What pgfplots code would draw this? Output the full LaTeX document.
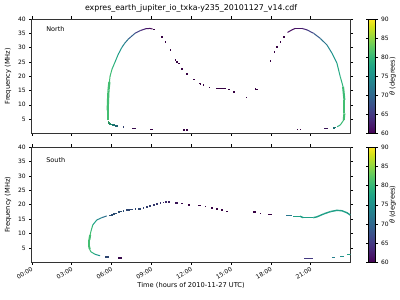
\documentclass[border=0pt]{standalone}
\usepackage{pgfplots}
\pgfplotsset{compat=1.18}
\usepackage{fontspec}
\setmainfont{DejaVu Sans}
\newcommand{\tf}{\fontsize{6}{7}\selectfont}
\newcommand{\lf}{\fontsize{6.7}{8}\selectfont}
\pgfplotsset{
  base/.style={
    scale only axis, width=318.8bp, height=114.3bp,
    xmin=0, xmax=24, ymin=0, ymax=40,
    xtick={0,3,...,21}, ytick={5,10,...,40},
    tick align=outside, major tick length=2.5bp,
    tick style={black, line width=0.4pt},
    axis line style={line width=0.5pt, black!80},
    tick label style={font=\tf},
    /pgf/number format/assume math mode=true,
    label style={font=\lf},
    ylabel={Frequency (MHz)},
    colormap/viridis,
    point meta min=60, point meta max=90,
    colorbar,
    colorbar style={
      at={(parent axis.north east)}, anchor=north west, xshift=9.5bp,
      width=7bp, ytick={60,65,...,90},
      yticklabel style={font=\tf, xshift=-0.5bp},
      ylabel={\textit{θ} (degrees)}, ylabel style={font=\lf},
      ylabel shift=-6bp,
      /pgf/number format/assume math mode=true,
      major tick length=2.5bp, tick align=outside,
    },
  },
  dots/.style={scatter, only marks, mark=square*, mark size=0.32bp, scatter src=explicit},
  seg/.style={mesh, point meta=explicit, line width=1bp},
}
\begin{document}
\begin{tikzpicture}
\useasboundingbox (0,0) rectangle (400bp,300bp);
% ---------------- North ----------------
\begin{axis}[base, at={(31.7bp,166.7bp)}, anchor=south west,
  xticklabels={},
  title={expres\_earth\_jupiter\_io\_txka-y235\_20101127\_v14.cdf},
  title style={font=\fontsize{7.9}{8}\selectfont, yshift=-2.5bp}]
\node[anchor=west, font=\fontsize{6.5}{7}\selectfont] at (rel axis cs:0.035,0.91) {North};
% left arc
\addplot[seg, line width=2.2bp] table[meta index=2] {
5.72 4.5 81
5.72 8 81
5.75 12 81
5.78 15 81
5.85 18 81
};
\addplot[seg] table[meta index=2] {
5.85 18 81
5.9 20 81
6.05 22.5 80
6.28 25 79
6.5 27.5 77
6.78 30 75
7.0 31.5 73
7.28 33 71
7.78 35 67
8.2 36 64
8.6 36.6 62
8.9 36.7 61
9.1 36.5 60
};
% left low tail
\addplot[dots] table[meta index=2] {
5.76 4.1 81
5.8 3.8 80
5.85 3.4 79
5.95 3.2 78
6.05 3.0 76
6.15 2.9 75
6.3 2.7 73
6.45 2.6 72
6.9 2.3 67
7.62 1.75 61
7.75 1.75 61
8.92 1.4 60
9.04 1.4 60
11.43 1.2 60
11.68 1.2 60
};
% descending dots
\addplot[dots] table[meta index=2] {
9.17 36.4 60
9.8 33.8 60
10.05 32.1 60
10.42 29.2 60
10.8 25.7 60
10.92 25.1 60
11.05 24.5 60
11.3 22.7 60
11.68 20.8 60
12.18 18.9 60
12.6 17.5 60
12.68 17.3 60
12.91 16.9 60
13.36 16.1 60
13.94 15.75 60
14.05 15.75 60
14.15 15.75 60
14.25 15.75 60
14.35 15.75 60
14.45 15.75 60
14.57 15.75 60
14.82 15.4 60
15.19 14.45 60
16.15 12.6 60
16.83 15.7 60
16.95 15.4 60
17.96 25.4 60
18.26 28.6 60
18.46 30.3 60
18.71 32.1 60
18.96 33.8 60
};
% right arc
\addplot[seg] table[meta index=2] {
19.26 35.3 61
19.59 36.2 61
19.84 36.7 61
20.35 36.7 62
20.72 36.2 64
21.22 35.0 67
21.73 33.2 70
22.23 30.9 73
22.61 28 75
22.98 24.5 77
23.23 19.8 79
23.44 16.3 80
};
\addplot[seg, line width=2bp] table[meta index=2] {
23.44 16.3 80
23.54 11.7 81
23.54 7 81
23.49 4.65 81
};
\addplot[seg] table[meta index=2] {
23.49 4.65 81
23.23 2.9 80
23.0 2.3 78
};
\addplot[dots] table[meta index=2] {
22.86 2.1 76
22.75 2.0 74
22.03 1.8 62
22.13 1.8 62
22.23 1.8 62
20.0 1.4 60
20.2 1.4 60
};
\end{axis}
% ---------------- South ----------------
\begin{axis}[base, at={(31.7bp,37.6bp)}, anchor=south west, height=115.4bp,
  xticklabels={00:00,03:00,06:00,09:00,12:00,15:00,18:00,21:00},
  xticklabel style={rotate=30, anchor=north east, inner sep=1.5bp},
  xlabel={Time (hours of 2010-11-27 UTC)}, xlabel style={yshift=3bp}]
\node[anchor=west, font=\fontsize{6.5}{7}\selectfont] at (rel axis cs:0.035,0.89) {South};
\addplot[dots] table[meta index=2] {
6.55 1.6 61
6.7 1.6 61
5.55 2.0 68
5.7 2.0 68
};
\addplot[seg] table[meta index=2] {
5.15 2.3 74
4.77 2.8 78
4.45 3.7 80
4.36 4.6 81
};
\addplot[seg, line width=2bp] table[meta index=2] {
4.36 4.6 81
4.34 5.4 81
4.34 7.8 81
4.4 9.5 81
};
\addplot[seg] table[meta index=2] {
4.4 9.5 81
4.45 10.6 81
4.6 13.0 79
4.9 14.7 76
5.27 15.5 72
5.65 16.1 70
};
\addplot[dots] table[meta index=2] {
5.85 16.4 69
6.0 16.6 69
6.15 16.8 69
6.3 17.1 69
6.53 17.6 69
6.7 17.7 69
6.9 17.9 69
7.15 18.2 68
7.3 18.3 68
7.41 18.4 68
7.55 18.45 68
7.8 18.6 68
8.05 18.7 68
8.16 18.7 68
8.4 19.0 67
8.67 19.3 67
8.9 19.7 67
9.17 20.1 66
9.4 20.4 66
9.67 20.7 65
9.9 20.9 64
10.1 21.0 64
10.3 21.0 63
10.8 20.8 62
10.9 20.8 62
11.3 20.5 61
11.8 20.1 60
12.55 19.8 60
12.65 19.8 60
13.06 19.5 60
13.56 19.0 60
13.94 18.6 60
14.32 18.2 60
14.7 17.8 60
16.7 17.5 60
16.8 17.5 60
17.2 17.1 60
17.83 16.7 60
17.92 16.7 60
18.0 16.7 60
};
\addplot[seg] table[meta index=2] {
19.17 16.3 72
19.6 16.3 72
};
\addplot[seg, line width=1.4bp] table[meta index=2] {
19.7 16.0 77
20.2 16.0 77
20.45 15.5 77
21.2 15.5 77
21.48 15.8 77
21.98 16.8 77
22.48 17.6 77
22.98 18.05 77
23.36 17.9 77
23.74 17.2 77
23.99 16.4 76
};
\addplot[seg] table[meta index=2] {
20.5 1.4 65
21.2 1.4 65
};
\addplot[seg] table[meta index=2] {
22.6 1.8 73
22.86 1.8 73
};
\addplot[seg] table[meta index=2] {
23.23 2.2 75
23.49 2.2 75
};
\addplot[seg] table[meta index=2] {
23.74 2.8 77
24.0 2.8 77
};
\end{axis}
\end{tikzpicture}
\end{document}
